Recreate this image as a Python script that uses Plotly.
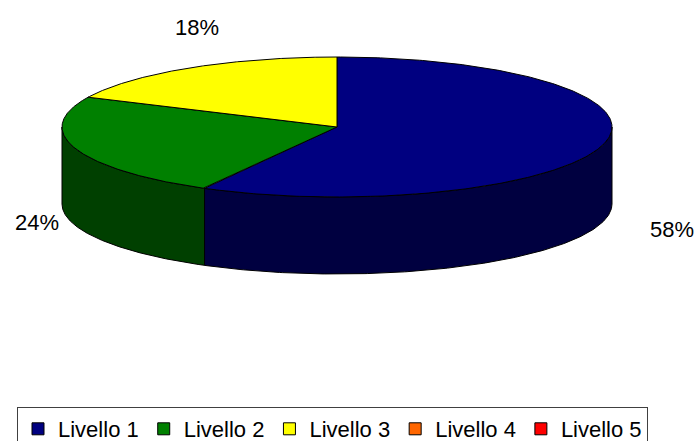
import numpy as np
import plotly.graph_objects as go

# ---- data ----
categories = ["Livello 1", "Livello 2", "Livello 3", "Livello 4", "Livello 5"]
values = [58, 24, 18, 0, 0]

# ---- styles ----
top_colors = ["#000080", "#008000", "#FFFF00", "#FF6600", "#FF0000"]
side_colors = ["#000040", "#004000", "#808000", "#803300", "#800000"]
label_anchor = {0: (672, 229), 1: (37, 222), 2: (197, 27)}

W, H = 698, 441
CX, CY, RX, RY, DEPTH = 337, 127, 275, 70, 77
FONT = "Liberation Sans, Arial, sans-serif"


def ell(theta_deg, dy=0.0):
    t = np.radians(theta_deg)
    return CX + RX * np.sin(t), CY - RY * np.cos(t) + dy


total = float(sum(values))
slices = []
start = 0.0
for v in values:
    if v <= 0:
        slices.append(None)
        continue
    sweep = 360.0 * v / total
    slices.append((start, start + sweep))
    start += sweep

fig = go.Figure()

# outer walls (front half only: 90..270 deg clockwise from top)
for i, s in enumerate(slices):
    if s is None:
        continue
    a0, a1 = max(s[0], 90.0), min(s[1], 270.0)
    if a1 <= a0:
        continue
    th = np.linspace(a0, a1, 200)
    xt, yt = ell(th)
    xb, yb = ell(th[::-1], DEPTH)
    x = np.concatenate([xt, xb, xt[:1]])
    y = np.concatenate([yt, yb, yt[:1]])
    fig.add_trace(go.Scatter(x=x, y=y, mode="lines", fill="toself",
                             fillcolor=side_colors[i],
                             line=dict(color="black", width=1),
                             showlegend=False, hoverinfo="skip"))

# top faces
for i, s in enumerate(slices):
    if s is None:
        continue
    th = np.linspace(s[0], s[1], 300)
    xa, ya = ell(th)
    x = np.concatenate([[CX], xa, [CX]])
    y = np.concatenate([[CY], ya, [CY]])
    fig.add_trace(go.Scatter(x=x, y=y, mode="lines", fill="toself",
                             fillcolor=top_colors[i],
                             line=dict(color="black", width=1),
                             showlegend=False, hoverinfo="skip"))

# legend entries
for i, cat in enumerate(categories):
    fig.add_trace(go.Scatter(x=[None], y=[None], mode="markers", name=cat,
                             marker=dict(symbol="square", size=12,
                                         color=top_colors[i],
                                         line=dict(color="black", width=1))))

# percentage labels
for i, v in enumerate(values):
    if v <= 0 or i not in label_anchor:
        continue
    lx, ly = label_anchor[i]
    fig.add_annotation(x=lx, y=ly, xref="x", yref="y", showarrow=False,
                       text=f"{round(100 * v / total)}%",
                       font=dict(family=FONT, size=22, color="black"))

fig.update_layout(
    width=W, height=H,
    margin=dict(l=0, r=0, t=0, b=0, pad=0, autoexpand=False),
    paper_bgcolor="white", plot_bgcolor="white",
    xaxis=dict(range=[0, W], visible=False, fixedrange=True),
    yaxis=dict(range=[H, 0], visible=False, fixedrange=True),
    showlegend=True,
    legend=dict(orientation="h", x=17 / W, xanchor="left",
                y=1 - 407 / H, yanchor="top",
                bgcolor="white", bordercolor="#404040", borderwidth=1,
                font=dict(family=FONT, size=22, color="black"),
                itemwidth=30, tracegroupgap=0),
)

fig.write_html("out.html")
